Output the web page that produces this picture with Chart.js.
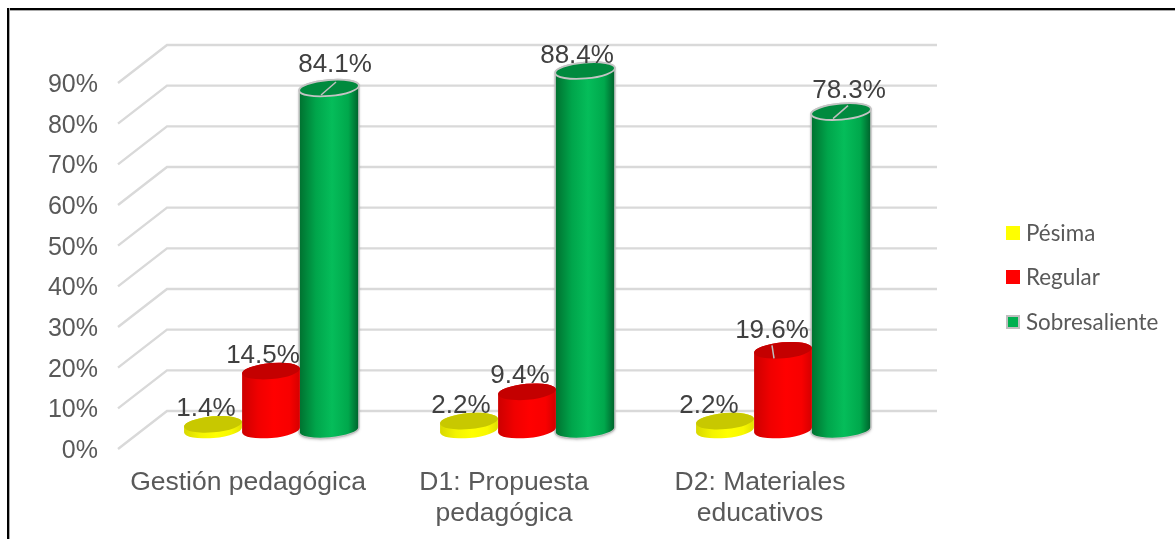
<!DOCTYPE html>
<html><head><meta charset="utf-8">
<style>
html,body{margin:0;padding:0;background:#fff;overflow:hidden}
#wrap{position:relative;width:1175px;height:539px}
#frameTop{position:absolute;left:7px;top:8px;right:0;height:2px;background:#000;border-bottom:1px solid #aaa}
#frameLeft{position:absolute;left:7px;top:8px;bottom:0;width:2px;background:#000;border-right:1px solid #aaa}
canvas{display:block}
</style>
<script src="https://cdn.jsdelivr.net/npm/chart.js@4/dist/chart.umd.min.js"></script>
</head><body>
<div id="wrap"><canvas id="c" width="1175" height="539"></canvas><div id="frameTop"></div><div id="frameLeft"></div></div>
<script>
const categories = [["Gestión pedagógica"], ["D1: Propuesta", "pedagógica"], ["D2: Materiales", "educativos"]];
const pesima = [1.4, 2.2, 2.2];
const regular = [14.5, 9.4, 19.6];
const sobresaliente = [84.1, 88.4, 78.3];

const AREA = {left:120, right:888, top:83, bottom:449};
const DEPTH = {dx:48, dy:-38};
const BAR_DX = 23;
const TILT = -5 * Math.PI / 180;
const RY = 8;
const STYLE = {
  '#ffff00': {top:'#c8c800', stops:['#d8d800','#f4f400','#ffff00','#f8f800','#e0e000'], border:null},
  '#ff0000': {top:'#c40000', stops:['#cc0000','#f00000','#ff0000','#f80000','#d40000'], border:null},
  '#00b050': {top:'#008a3e', stops:['#00702f','#00a54b','#05bd5a','#00a84c','#00602b'], border:'#c4c4c4'}
};
const STOP_POS = [0,.28,.55,.82,1];
const LABEL_OFFSETS = [
  [[-7,-16],[-8,-16],[-16,-16]],
  [[-8,-16],[-7,-17],[-11,-20]],
  [[6,-24],[-8,-16],[8,-22]]
];
const LEADERS = {'2:0':[[-8,7],[7,-6]], '2:2':[[-8,7],[7,-6]], '1:2':[[-11,-5],[-9,8]]};

// cylinders: BarElement geometry comes from the chart's own scales
Chart.BarElement.prototype.draw = function(ctx){
  const {x,y,base,width} = this.getProps(['x','y','base','width']);
  const s = STYLE[this.options.backgroundColor];
  const cx = x + BAR_DX, ty = y + DEPTH.dy/2, by = base + DEPTH.dy/2, rx = width/2 + (s.border?1:0);
  const g = ctx.createLinearGradient(cx-rx,0,cx+rx,0);
  s.stops.forEach((c,i)=>g.addColorStop(STOP_POS[i],c));
  ctx.save();
  if(s.border){ctx.shadowColor='rgba(0,0,0,.3)';ctx.shadowBlur=3;ctx.shadowOffsetY=1;}
  ctx.beginPath();
  ctx.ellipse(cx,by,rx,RY,TILT,0,Math.PI);
  ctx.ellipse(cx,ty,rx,RY,TILT,Math.PI,2*Math.PI);
  ctx.closePath();
  ctx.fillStyle=g; ctx.fill();
  ctx.shadowColor='transparent';
  if(s.border){ctx.strokeStyle=s.border;ctx.lineWidth=1.5;ctx.stroke();}
  ctx.beginPath();
  ctx.ellipse(cx,ty,rx,RY,TILT,0,2*Math.PI);
  ctx.fillStyle=s.top; ctx.fill();
  if(s.border){ctx.strokeStyle=s.border;ctx.lineWidth=1.8;ctx.stroke();}
  ctx.restore();
};

const wall = {
  id:'wall',
  beforeDatasetsDraw(chart){
    const {ctx,scales:{y},chartArea:a} = chart;
    ctx.save();
    ctx.strokeStyle='#d9d9d9'; ctx.lineWidth=2.4;
    y.ticks.forEach(t=>{
      const p = y.getPixelForValue(t.value);
      ctx.beginPath();
      ctx.moveTo(a.left-2,p);
      ctx.lineTo(a.left+DEPTH.dx-1,p+DEPTH.dy);
      ctx.lineTo(a.right+DEPTH.dx+1,p+DEPTH.dy);
      ctx.stroke();
    });
    ctx.restore();
  }
};

const labels3d = {
  id:'labels3d',
  afterDatasetsDraw(chart){
    const ctx = chart.ctx;
    ctx.save();
    chart.data.datasets.forEach((ds,i)=>{
      chart.getDatasetMeta(i).data.forEach((el,j)=>{
        const cx = el.x + BAR_DX, ty = el.y + DEPTH.dy/2;
        const lead = LEADERS[i+':'+j];
        if(lead){
          ctx.strokeStyle='#bfbfbf'; ctx.lineWidth=1.5;
          ctx.beginPath();
          ctx.moveTo(cx+lead[0][0],ty+lead[0][1]);
          ctx.lineTo(cx+lead[1][0],ty+lead[1][1]);
          ctx.stroke();
        }
        const off = LABEL_OFFSETS[i][j];
        ctx.font='26px "Liberation Sans"';
        ctx.fillStyle='#404040';
        ctx.textAlign='center'; ctx.textBaseline='middle';
        ctx.fillText(ds.data[j].toFixed(1)+'%',cx+off[0],ty+off[1]+1);
      });
    });
    ctx.restore();
  }
};

const legend3d = {
  id:'legend3d',
  afterDraw(chart){
    const ctx = chart.ctx;
    const ys = [233,277,322];
    ctx.save();
    chart.data.datasets.forEach((ds,i)=>{
      const y = ys[i];
      if(STYLE[ds.backgroundColor].border){
        ctx.fillStyle='#bfbfbf'; ctx.fillRect(1006,y-7,14,14);
        ctx.fillStyle=ds.backgroundColor; ctx.fillRect(1008,y-5,10,10);
      } else {
        ctx.fillStyle=ds.backgroundColor; ctx.fillRect(1006,y-7,14,14);
      }
      ctx.font='22.4px Lato';
      ctx.fillStyle='#595959';
      ctx.textAlign='left'; ctx.textBaseline='middle';
      ctx.fillText(ds.label,1026,y+1);
    });
    ctx.restore();
  }
};

new Chart(document.getElementById('c'),{
  type:'bar',
  data:{labels:categories,datasets:[
    {label:'Pésima',data:pesima,backgroundColor:'#ffff00',clip:false},
    {label:'Regular',data:regular,backgroundColor:'#ff0000',clip:false},
    {label:'Sobresaliente',data:sobresaliente,backgroundColor:'#00b050',clip:false}
  ]},
  options:{
    responsive:false,animation:false,
    devicePixelRatio:1,
    layout:{padding:{top:AREA.top,right:1175-AREA.right,bottom:0,left:0}},
    categoryPercentage:.68,barPercentage:1,
    plugins:{legend:{display:false},tooltip:{enabled:false},title:{display:false}},
    scales:{
      x:{
        grid:{display:false},border:{display:false},
        afterFit(s){s.height=539-AREA.bottom;},
        ticks:{color:'#595959',font:{family:'"Liberation Sans"',size:26.5,lineHeight:1.17},padding:10,maxRotation:0,minRotation:0,autoSkip:false}
      },
      y:{
        min:0,max:90,
        grid:{display:false},border:{display:false},
        afterFit(s){s.width=AREA.left;},
        ticks:{stepSize:10,color:'#595959',padding:14,labelOffset:2,font:{family:'"Liberation Sans"',size:25},callback:v=>v+'%'}
      }
    }
  },
  plugins:[wall,labels3d,legend3d]
});
</script>
</body></html>
